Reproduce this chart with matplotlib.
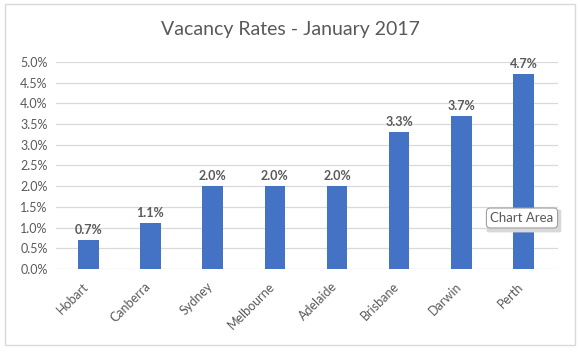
import matplotlib.pyplot as plt
import matplotlib.transforms as mtransforms
from matplotlib.patches import Rectangle, FancyBboxPatch
import numpy as np

cities = ['Hobart', 'Canberra', 'Sydney', 'Melbourne', 'Adelaide',
          'Brisbane', 'Darwin', 'Perth']
rates = [0.7, 1.1, 2.0, 2.0, 2.0, 3.3, 3.7, 4.7]
yticks = np.arange(0, 5.01, 0.5)

plt.rcParams['font.family'] = ['Lato', 'DejaVu Sans']

fig = plt.figure(figsize=(5.8, 3.52), dpi=100)
ax = fig.add_axes([0.0966, 0.236, 0.865, 0.588])

x = np.arange(len(cities))
ax.bar(x, rates, width=0.33, color='#4472C4', zorder=3)
for xi, v in zip(x, rates):
    ax.text(xi, v + 0.1, f'{v:.1f}%', ha='center', va='bottom',
            fontsize=9, fontweight='bold', color='#595959')

ax.set_ylim(0, 5)
ax.set_xlim(-0.52, 7.55)
ax.set_yticks(yticks)
ax.set_yticklabels([f'{t:.1f}%' for t in yticks])
ax.set_xticks(x)
ax.set_xticklabels(cities, rotation=45, ha='right', rotation_mode='anchor')
ax.tick_params(axis='both', length=0, labelsize=9, colors='#595959', pad=6)
ax.tick_params(axis='x', pad=8)
# nudge rotated labels left so they end under the bars like excel does
offset = mtransforms.ScaledTranslation(-6 / 100, 0, fig.dpi_scale_trans)
for lbl in ax.get_xticklabels():
    lbl.set_transform(lbl.get_transform() + offset)
ax.grid(axis='y', color='#d9d9d9', linewidth=0.9, zorder=0)
for s in ax.spines.values():
    s.set_visible(False)

fig.text(0.5, 0.915, 'Vacancy Rates - January 2017', ha='center', va='center',
         fontsize=14, color='#595959')

# chart border
fig.patches.append(Rectangle((5 / 580, 1 - 345 / 352), 570 / 580, 341 / 352,
                             transform=fig.transFigure, fill=False,
                             edgecolor='#d9d9d9', linewidth=1))

# tooltip shadow (plain patch, just offset a bit)
fig.patches.append(FancyBboxPatch((489 / 580, 1 - 231 / 352), 70 / 580, 20 / 352,
                                  boxstyle='round,pad=0.004',
                                  transform=fig.transFigure,
                                  facecolor='#d8d8d8', edgecolor='none'))
fig.text(522 / 580, 1 - 218 / 352, 'Chart Area', ha='center', va='center',
         fontsize=9.5, color='#595959',
         bbox=dict(boxstyle='round,pad=0.3', facecolor='white',
                   edgecolor='#a0a0a0', linewidth=0.8))

plt.savefig('out.png', dpi=100)
